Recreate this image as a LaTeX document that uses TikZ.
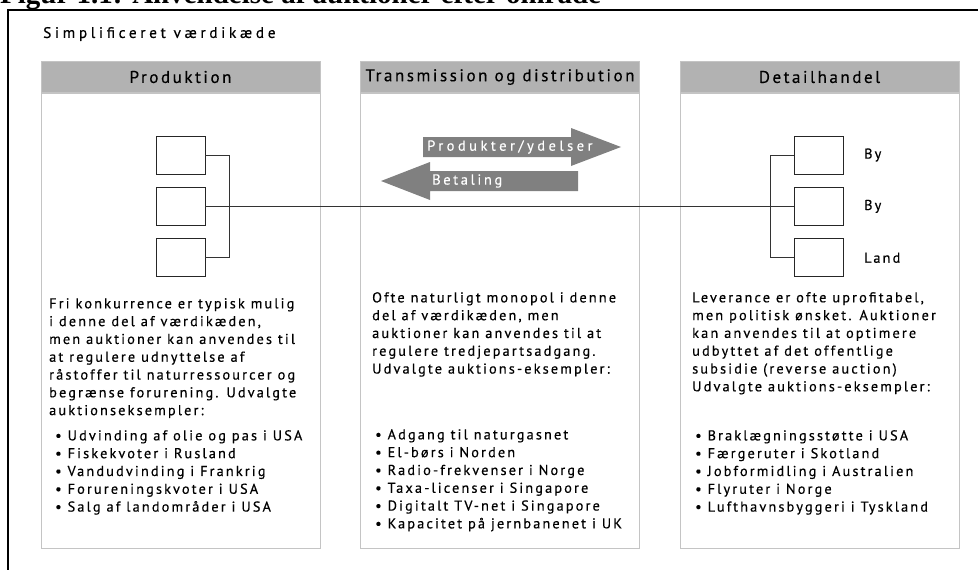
\documentclass[tikz,border=0pt]{standalone}
\usepackage{fontspec}
\usepackage{tikz}
\usetikzlibrary{positioning}

\newfontfamily\chainfont[LetterSpace=15,FakeBold=0.4]{PT Sans}
\newfontfamily\titlefont{Liberation Serif}

\definecolor{hdrgray}{RGB}{178,178,178}
\definecolor{framegray}{RGB}{196,196,196}
\definecolor{arrgray}{RGB}{128,128,128}

\begin{document}
\begin{tikzpicture}[x=1pt,y=-1pt,
	colbox/.style={draw=framegray, line width=1pt, minimum width=279pt, minimum height=455pt, inner sep=0pt},
	colhead/.style={draw=framegray, fill=hdrgray, line width=1pt, minimum width=279pt, minimum height=31pt, inner sep=0pt, font=\chainfont\fontsize{17}{20}\selectfont},
	unit/.style={draw=black!85, line width=0.9pt, minimum width=49pt, minimum height=38pt, inner sep=0pt},
	link/.style={draw=black!80, line width=0.9pt},
	bodytext/.style={anchor=north west, align=left, inner sep=0pt, font=\chainfont\fontsize{14.3}{17.8}\selectfont},
	unitlabel/.style={inner sep=0pt, font=\chainfont\fontsize{14.3}{16}\selectfont},
	arrowtext/.style={anchor=west, inner sep=0pt, text=white, font=\chainfont\fontsize{14.5}{16}\selectfont\addfontfeature{LetterSpace=24}}]

		\useasboundingbox (0,0) rectangle (978,570);

		% title, cut off at the top edge
		\begin{scope}
			\clip (0,0) rectangle (978,570);
			\node[anchor=base west, inner sep=0pt, font=\titlefont\bfseries\fontsize{29}{32}\selectfont] (title) at (0,4) {Figur 1.1: Anvendelse af auktioner efter område};
		\end{scope}

		\draw[line width=2pt] (8,570) -- (8,10) -- (978,10);

		\node[anchor=west, inner sep=0pt, font=\chainfont\fontsize{15.3}{17}\selectfont\addfontfeature{LetterSpace=24}] (chain) at (43,34) {Simplificeret værdikæde};

		% the three columns
		\node[colbox] (prod) at (180.5,320.5) {};
		\node[colbox] (trans) at (500,320.5) {};
		\node[colbox] (detail) at (819.5,320.5) {};

		\node[colhead] (prodh) at (180.5,77) {Produktion};
		\node[colhead] (transh) at (500,77) {Transmission og distribution};
		\node[colhead] (detailh) at (819.5,77) {Detailhandel};

		% producers
		\node[unit] (pA) at (180.5,155) {};
		\node[unit] (pB) [below=12.5pt of pA] {};
		\node[unit] (pC) [below=12.5pt of pB] {};

		% consumers
		\node[unit] (dA) at (819,155) {};
		\node[unit] (dB) [below=12.5pt of dA] {};
		\node[unit] (dC) [below=12.5pt of dB] {};

		\node[unitlabel] (byA) [right=20pt of dA] {By};
		\node[unitlabel] (byB) [right=20pt of dB] {By};
		\node[unitlabel] (land) [right=20pt of dC] {Land};

		\draw[link] (pA.east) -- ++(24,0) |- (pC.east);
		\draw[link] (pB.east) -- (dB.west);
		\draw[link] (dA.west) -- ++(-24,0) |- (dC.west);

		% flows
		\fill[arrgray] (423,137) -- (571,137) -- (571,128) -- (621,147) -- (571,166) -- (571,157) -- (423,157) -- cycle;
		\fill[arrgray] (578,171) -- (430,171) -- (430,162) -- (381,181) -- (430,200) -- (430,191) -- (578,191) -- cycle;
		\node[arrowtext] (goods) at (427,147) {Produkter/ydelser};
		\node[arrowtext, font=\chainfont\fontsize{14.5}{16}\selectfont\addfontfeature{LetterSpace=18}] (pay) at (432,181) {Betaling};

		% texts
		\node[bodytext] (prodtxt) at (49,298) {Fri konkurrence er typisk mulig\\i denne del af værdikæden,\\men auktioner kan anvendes til\\at regulere udnyttelse af\\råstoffer til naturressourcer og\\begrænse forurening. Udvalgte\\auktionseksempler:};
		\node[bodytext] (prodlist) at (55,430) {\textbullet{} Udvinding af olie og pas i USA\\\textbullet{} Fiskekvoter i Rusland\\\textbullet{} Vandudvinding i Frankrig\\\textbullet{} Forureningskvoter i USA\\\textbullet{} Salg af landområder i USA};

		\node[bodytext] (transtxt) at (372,292) {Ofte naturligt monopol i denne\\del af værdikæden, men\\auktioner kan anvendes til at\\regulere tredjepartsadgang.\\Udvalgte auktions-eksempler:};
		\node[bodytext] (translist) at (375,429) {\textbullet{} Adgang til naturgasnet\\\textbullet{} El-børs i Norden\\\textbullet{} Radio-frekvenser i Norge\\\textbullet{} Taxa-licenser i Singapore\\\textbullet{} Digitalt TV-net i Singapore\\\textbullet{} Kapacitet på jernbanenet i UK};

		\node[bodytext] (detailtxt) at (692,292) {Leverance er ofte uprofitabel,\\men politisk ønsket. Auktioner\\kan anvendes til at optimere\\udbyttet af det offentlige\\subsidie (reverse auction)\\Udvalgte auktions-eksempler:};
		\node[bodytext] (detaillist) at (695,430) {\textbullet{} Braklægningsstøtte i USA\\\textbullet{} Færgeruter i Skotland\\\textbullet{} Jobformidling i Australien\\\textbullet{} Flyruter i Norge\\\textbullet{} Lufthavnsbyggeri i Tyskland};
	\end{tikzpicture}
\end{document}
